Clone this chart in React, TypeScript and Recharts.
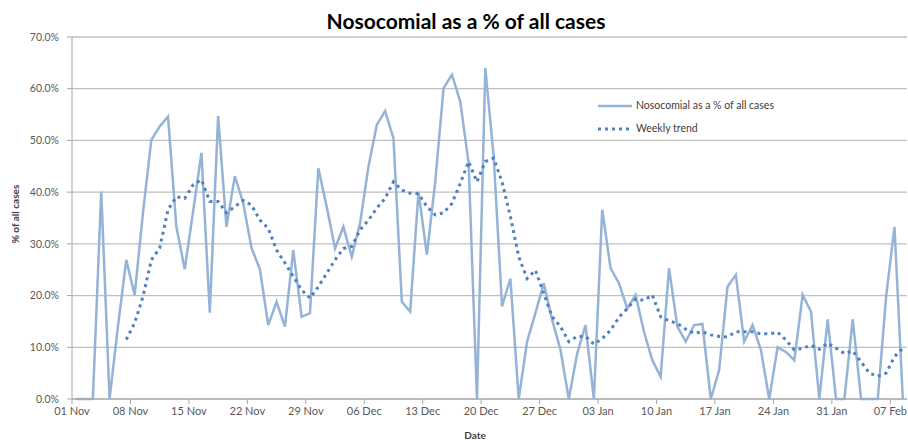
import React from 'react';
import { LineChart, Line, XAxis, YAxis, CartesianGrid } from 'recharts';

// daily share of nosocomial cases (%), 01 Nov .. 08 Feb
const nosocomial = [
  0, 0, 0, 40.1, 0, 14, 26.9, 20.1, 36, 50.1,
  52.7, 54.6, 33.3, 25.1, 36.2, 47.6, 16.7, 54.7, 33.3, 43.1,
  37.9, 29.2, 25.1, 14.3, 18.8, 14.0, 28.8, 15.9, 16.6, 44.6,
  37.2, 29.1, 33.3, 27.5, 34.0, 44.9, 53.0, 55.7, 50.4, 18.8,
  16.9, 40.1, 27.9, 42, 60.1, 62.7, 57.5, 45.6, 0, 64.0,
  46.9, 17.9, 23.3, 0, 11.1, 16.6, 22.4, 15.3, 9.5, 0,
  8.8, 14.3, 0, 36.6, 25.3, 22.4, 17.5, 20.1, 13.0, 7.5,
  4.3, 25.3, 14.0, 11.1, 14.3, 14.5, 0, 5.6, 21.7, 24.0,
  11.1, 14.3, 9.5, 0, 10.0, 9.1, 7.5, 20.1, 16.9, 0,
  15.4, 0, 0, 15.4, 0, 0, 0, 19.8, 33.3, 0,
];

// weekly trend (%), starts on day 7
const weeklyTrend = [
  null, null, null, null, null, null, 11.5, 14.7, 19.8, 26.9,
  29.2, 36.6, 39.1, 38.8, 41.4, 42.4, 38.2, 38.2, 36.0, 37.2,
  38.4, 37.5, 34.6, 33.0, 28.8, 26.3, 23.7, 21.1, 19.5, 21.7,
  24.3, 26.9, 29.1, 29.5, 32.7, 34.6, 36.9, 38.8, 42.0, 40.4,
  39.8, 39.7, 37.2, 35.6, 36.0, 37.8, 41.7, 45.9, 42.0, 45.9,
  46.6, 42.0, 35.3, 27.5, 23.3, 24.9, 20.4, 15.9, 14.0, 11.1,
  12.1, 12.1, 10.6, 11.7, 13.3, 15.8, 17.5, 19.3, 19.1, 20.1,
  15.9, 15.1, 14.6, 13.5, 12.7, 13.0, 12.4, 12.1, 12.0, 13.0,
  13.0, 13.0, 12.6, 12.6, 12.9, 11.4, 9.5, 9.8, 10.4, 9.6,
  10.8, 9.8, 8.8, 9.3, 7.2, 5.0, 4.4, 5.0, 8.2, 9.8,
];

const tickLabels = [
  '01 Nov', '08 Nov', '15 Nov', '22 Nov', '29 Nov', '06 Dec', '13 Dec', '20 Dec',
  '27 Dec', '03 Jan', '10 Jan', '17 Jan', '24 Jan', '31 Jan', '07 Feb',
];
const yTicks = [0, 10, 20, 30, 40, 50, 60, 70];

const data = nosocomial.map((v, i) => ({
  day: i + 0.5,
  noso: v,
  trend: weeklyTrend[i],
}));
const xTicks = tickLabels.map((_, i) => i * 7);

const FONT = 'Lato, "Liberation Sans", sans-serif';
const TEXT = '#595959';

const LegendBox = () => (
  <div
    style={{
      position: 'absolute', left: 596, top: 94, fontFamily: FONT, fontSize: 10.5,
      color: '#404040', lineHeight: '23px',
    }}
  >
    <div style={{ display: 'flex', alignItems: 'center' }}>
      <svg width={38} height={10}>
        <line x1={2} y1={5} x2={36} y2={5} stroke="#95b3d7" strokeWidth={2.5} />
      </svg>
      <span style={{ marginLeft: 2 }}>Nosocomial as a % of all cases</span>
    </div>
    <div style={{ display: 'flex', alignItems: 'center' }}>
      <svg width={38} height={10}>
        <line x1={2} y1={5} x2={36} y2={5} stroke="#4f81bd" strokeWidth={3} strokeDasharray="3 4" />
      </svg>
      <span style={{ marginLeft: 2 }}>Weekly trend</span>
    </div>
  </div>
);

export default function App() {
  return (
    <div style={{ position: 'absolute', left: 0, top: 0, width: 908, height: 440, background: '#fff' }}>
      <div
        style={{
          position: 'absolute', left: 12, top: 8, width: 908, textAlign: 'center',
          fontFamily: FONT, fontWeight: 700, fontSize: 21, color: '#000', lineHeight: '26px',
        }}
      >
        Nosocomial as a % of all cases
      </div>
      <LineChart
        width={908}
        height={440}
        data={data}
        margin={{ top: 37, right: 1, left: 0, bottom: 0 }}
      >
        <CartesianGrid vertical={false} stroke="#bfbfbf" strokeWidth={1.3} />
        <XAxis
          type="number"
          dataKey="day"
          domain={[0, 100]}
          ticks={xTicks}
          interval={0}
          tickFormatter={(v: number) => tickLabels[v / 7]}
          height={41}
          tickSize={5}
          tickMargin={3}
          stroke="#a6a6a6"
          tick={{ fill: TEXT, fontSize: 11, fontFamily: FONT }}
          allowDataOverflow
        />
        <YAxis
          domain={[0, 70]}
          ticks={yTicks}
          interval={0}
          width={72}
          tickSize={5}
          tickMargin={8}
          stroke="#a6a6a6"
          tickFormatter={(v: number) => `${v.toFixed(1)}%`}
          tick={{ fill: TEXT, fontSize: 10.5, fontFamily: FONT }}
        />
        <Line
          type="linear"
          dataKey="noso"
          stroke="#95b3d7"
          strokeWidth={2.5}
          dot={false}
          activeDot={false}
          isAnimationActive={false}
        />
        <Line
          type="linear"
          dataKey="trend"
          stroke="#4f81bd"
          strokeWidth={3}
          strokeDasharray="3 4"
          dot={false}
          activeDot={false}
          connectNulls={false}
          isAnimationActive={false}
        />
      </LineChart>
      <div
        style={{
          position: 'absolute', left: 15, top: 214, transform: 'translate(-50%, -50%) rotate(-90deg)',
          fontFamily: FONT, fontWeight: 700, fontSize: 10, color: '#404040', whiteSpace: 'nowrap',
        }}
      >
        % of all cases
      </div>
      <div
        style={{
          position: 'absolute', left: 475, top: 435, transform: 'translate(-50%, -50%)',
          fontFamily: FONT, fontWeight: 700, fontSize: 10, color: '#404040',
        }}
      >
        Date
      </div>
      <LegendBox />
    </div>
  );
}
